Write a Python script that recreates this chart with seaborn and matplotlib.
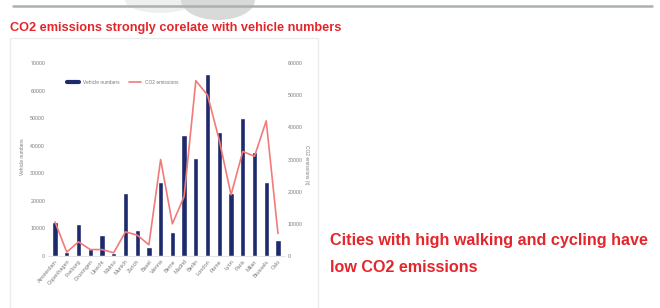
import pandas as pd
import matplotlib.pyplot as plt
import seaborn as sns
from matplotlib.patches import Ellipse, Rectangle
from matplotlib.lines import Line2D

# City data (labels are too blurry to read exactly)
cities = ["Amsterdam", "Copenhagen", "Freiburg", "Groningen", "Utrecht",
          "Malmo", "Munich", "Zurich", "Basel", "Vienna",
          "Berne", "Madrid", "Berlin", "London", "Rome",
          "Lyon", "Paris", "Milan", "Brussels", "Oslo"]
vehicles = [12300, 1500, 11600, 2500, 7600, 1000, 23000, 9400, 3300, 27000,
            8700, 44000, 35500, 66000, 45000, 22700, 50000, 37700, 27000, 5800]
co2 = [10600, 1200, 4400, 2000, 2000, 1000, 7500, 6500, 3500, 30000,
       10000, 18500, 54500, 50000, 36000, 19000, 32500, 31000, 42000, 7000]

title = "CO2 emissions strongly corelate with vehicle numbers"
note1 = "Cities with high walking and cycling have"
note2 = "low CO2 emissions"

df = pd.DataFrame({"city": cities, "vehicles": vehicles, "co2": co2})

sns.set_style("white")
plt.rcParams["font.family"] = ["Liberation Sans", "DejaVu Sans"]
red = "#e3262c"
navy = "#1d2a6b"
pink = "#f27a78"
grey = "#7a7a7a"

fig = plt.figure(figsize=(6.6, 3.08), dpi=100)

# slide decorations: top rule, faint watermark, chart frame
fig.add_artist(Line2D([13 / 660, 652 / 660], [1 - 6 / 308, 1 - 6 / 308],
                      color="#a9b0b0", lw=1.8))
fig.add_artist(Ellipse((160 / 660, 1.0), 70 / 660, 26 / 308,
                       color="#efefef", lw=0))
fig.add_artist(Ellipse((218 / 660, 1.0), 74 / 660, 40 / 308,
                       color="#d9d9d9", lw=0))
fig.add_artist(Rectangle((10 / 660, -0.01), 308 / 660, 1 - 38 / 308 + 0.01,
                         fill=False, ec="#ececec", lw=1))

fig.text(10 / 660, 1 - 28 / 308, title, color=red, fontsize=9.2,
         fontweight="bold", va="center")
fig.text(330 / 660, 1 - 240 / 308, note1, color=red, fontsize=11.6,
         fontweight="bold", va="center")
fig.text(330 / 660, 1 - 268 / 308, note2, color=red, fontsize=11.6,
         fontweight="bold", va="center")

ax = fig.add_axes([48 / 660, 1 - 256 / 308, 237 / 660, 193 / 308])
ax.set_facecolor("none")
sns.barplot(data=df, x="city", y="vehicles", color=navy, width=0.45,
            saturation=1, ax=ax)
ax.set_ylim(0, 70000)
ax.set_yticks(range(0, 70001, 10000))

ax2 = ax.twinx()
sns.lineplot(data=df, x="city", y="co2", color=pink, lw=1.2, ax=ax2)
ax2.set_ylim(0, 60000)
ax2.set_yticks(range(0, 60001, 10000))
ax.set_xlim(-0.6, 19.6)

for a in (ax, ax2):
    for s in a.spines.values():
        s.set_visible(False)
    a.tick_params(length=0, labelsize=3.8, colors=grey, pad=2)
    a.set_xlabel("")
    a.set_ylabel("")
ax.spines["bottom"].set_visible(True)
ax.spines["bottom"].set_color("#e0e0e0")
ax.spines["bottom"].set_linewidth(0.6)
ax.set_xticks(range(len(cities)))
ax.set_xticklabels(cities, rotation=50, ha="right", rotation_mode="anchor",
                   fontsize=4, color=grey)

fig.text(22 / 660, 1 - 157 / 308, "Vehicle numbers", rotation=90,
         fontsize=3.5, color=grey, ha="center", va="center")
fig.text(307 / 660, 1 - 165 / 308, "CO2 emissions (t)", rotation=270,
         fontsize=3.5, color=grey, ha="center", va="center")

handles = [Line2D([], [], color=navy, lw=3), Line2D([], [], color=pink, lw=1.2)]
ax2.legend(handles, ["Vehicle numbers", "CO2 emissions"], ncol=2,
           loc="center left", bbox_to_anchor=(0.06, 0.9), frameon=False,
           fontsize=3.5, labelcolor=grey, handlelength=2.5, columnspacing=2)

fig.savefig("out.png", dpi=100)
